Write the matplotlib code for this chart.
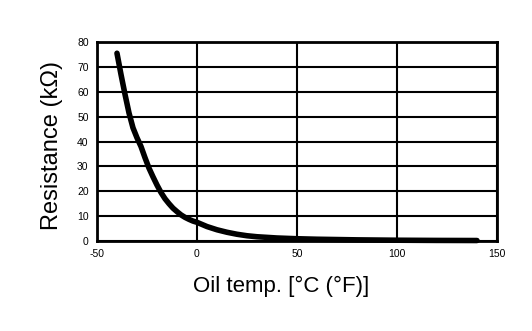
import matplotlib
matplotlib.use("Agg")
import matplotlib.pyplot as plt

temps = [-40, -38, -36, -34, -32, -30, -28, -26, -24, -22, -20, -18, -16, -14, -12, -10, -8, -6, -4, -2,
         0, 5, 10, 15, 20, 25, 30, 40, 50, 60, 80, 100, 120, 140]
resist = [75.5, 67, 59, 51.5, 45.5, 41.5, 38, 33.5, 29.3, 25.8, 22.5, 19.5, 17, 15, 13.2, 11.8, 10.5, 9.5, 8.7, 8,
          7.5, 5.8, 4.5, 3.5, 2.7, 2.1, 1.7, 1.2, 0.9, 0.7, 0.45, 0.3, 0.22, 0.18]
xticks = [-50, 0, 50, 100, 150]
yticks = [0, 10, 20, 30, 40, 50, 60, 70, 80]

plt.rcParams['font.family'] = ['Liberation Sans', 'DejaVu Sans']
plt.rcParams['axes.unicode_minus'] = False
fig = plt.figure(figsize=(5.32, 3.31), dpi=100)
ax = fig.add_axes([0.1823, 0.272, 0.7519, 0.601])
ax.set_xlim(-50, 150)
ax.set_ylim(0, 80)
ax.set_xticks(xticks)
ax.set_yticks(yticks)
ax.grid(True, color='black', linewidth=1.5)
ax.set_axisbelow(True)
ax.tick_params(length=0, labelsize=7.5, pad=6)
for s in ax.spines.values():
    s.set_linewidth(2)
    s.set_color('black')
ax.plot(temps, resist, color='black', linewidth=4, solid_capstyle='round', solid_joinstyle='round', zorder=3, clip_on=False)
ax.set_xlabel('Oil temp. [°C (°F)]', fontsize=16)
ax.set_ylabel('Resistance (kΩ)', fontsize=17)
ax.xaxis.set_label_coords(0.46, -0.175)
ax.yaxis.set_label_coords(-0.085, 0.482)
fig.savefig('out.png', dpi=100)
